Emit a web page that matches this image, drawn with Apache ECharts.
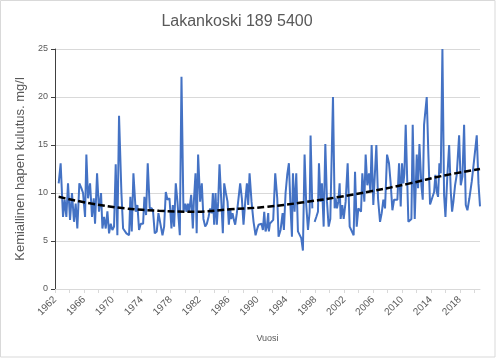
<!DOCTYPE html>
<html>
<head>
<meta charset="utf-8">
<script src="https://cdn.jsdelivr.net/npm/echarts@6/dist/echarts.min.js"></script>
<style>html,body{margin:0;padding:0;background:#fff}#c{width:500px;height:358px}</style>
</head>
<body>
<div id="c"></div>
<script>
const years = [1962.51,1962.78,1963.11,1963.34,1963.57,1963.80,1964.08,1964.35,1964.63,1964.86,1965.09,1965.37,1965.65,1965.88,1966.16,1966.34,1966.57,1966.85,1967.12,1967.36,1967.54,1967.82,1968.09,1968.37,1968.56,1968.79,1969.02,1969.25,1969.48,1969.71,1969.94,1970.17,1970.40,1970.63,1970.86,1971.19,1971.42,1971.65,1971.88,1972.25,1972.43,1972.62,1972.85,1973.17,1973.40,1973.63,1973.87,1974.19,1974.37,1974.60,1974.83,1975.11,1975.39,1975.57,1975.80,1976.08,1976.31,1976.54,1976.87,1977.10,1977.33,1977.56,1977.84,1978.11,1978.30,1978.48,1978.71,1978.94,1979.27,1979.50,1979.77,1980.01,1980.19,1980.38,1980.56,1980.84,1981.07,1981.21,1981.44,1981.60,1981.80,1982.08,1982.31,1982.54,1982.78,1983.01,1983.24,1983.47,1983.70,1983.84,1984.02,1984.21,1984.39,1984.58,1984.76,1984.99,1985.22,1985.41,1985.64,1985.87,1986.05,1986.24,1986.38,1986.56,1986.75,1986.93,1987.16,1987.39,1987.62,1987.85,1988.08,1988.32,1988.55,1988.73,1988.92,1989.19,1989.47,1989.75,1989.93,1990.16,1990.39,1990.58,1990.76,1990.95,1991.13,1991.32,1991.50,1991.59,1991.73,1991.92,1992.19,1992.47,1992.75,1992.93,1993.21,1993.49,1993.67,1993.90,1994.13,1994.36,1994.59,1994.78,1994.92,1995.15,1995.38,1995.61,1995.84,1996.07,1996.30,1996.53,1996.76,1997.00,1997.23,1997.36,1997.60,1997.75,1997.92,1998.15,1998.38,1998.52,1998.75,1998.93,1999.17,1999.40,1999.63,1999.86,2000.09,2000.32,2000.46,2000.69,2000.83,2001.01,2001.20,2001.38,2001.52,2001.75,2001.94,2002.21,2002.49,2002.77,2003.04,2003.32,2003.51,2003.74,2003.97,2004.15,2004.34,2004.52,2004.80,2004.98,2005.21,2005.44,2005.63,2005.81,2006.04,2006.27,2006.46,2006.69,2006.97,2007.20,2007.43,2007.66,2007.94,2008.21,2008.44,2008.68,2008.91,2009.14,2009.37,2009.60,2009.83,2010.01,2010.20,2010.34,2010.52,2010.75,2010.89,2011.12,2011.31,2011.49,2011.77,2012.05,2012.23,2012.42,2012.69,2012.88,2013.06,2013.43,2013.66,2013.89,2014.12,2014.45,2014.63,2014.82,2015.00,2015.18,2015.37,2015.60,2015.83,2016.02,2016.29,2016.53,2016.76,2016.94,2017.12,2017.35,2017.58,2017.91,2018.14,2018.37,2018.60,2018.83,2019.06,2019.33,2019.66,2019.98,2020.35,2020.59,2020.80];
const cod = [11.0,13.1,7.5,9.3,7.5,11.0,7.2,10.0,7.0,8.9,6.3,11.0,10.5,10.0,7.5,14.0,9.45,11.0,7.5,9.45,6.8,12.05,8.05,10.0,6.3,7.5,6.3,8.1,5.8,6.8,6.15,6.5,13.0,5.6,18.05,10.0,6.3,6.15,5.8,5.6,9.6,6.0,12.05,8.05,8.75,6.15,6.8,6.8,9.6,7.7,13.1,8.4,8.4,8.05,5.8,6.0,7.9,7.9,5.6,6.5,10.1,9.3,9.45,6.3,8.75,6.5,11.0,9.1,5.6,22.1,8.05,8.9,8.05,8.9,8.05,9.8,6.3,9.1,12.05,5.8,14.0,9.1,11.0,7.3,6.5,6.8,7.5,8.4,7.9,10.0,6.7,10.0,6.7,9.1,13.0,9.45,5.8,11.0,10.0,9.1,6.7,8.4,7.3,7.9,7.2,6.7,7.9,9.45,11.0,9.45,6.7,9.1,11.0,8.75,12.05,9.1,7.0,5.6,6.15,6.7,6.5,6.8,6.15,8.05,6.0,6.5,7.9,6.0,6.8,7.0,7.2,12.05,9.45,5.45,6.15,7.9,6.15,10.0,11.9,13.1,8.4,5.45,12.05,8.05,12.05,6.0,6.15,5.3,4.0,14.0,8.75,6.15,8.05,16.0,8.4,null,7.0,7.5,8.05,13.1,9.1,11.0,6.5,15.1,9.1,6.5,7.3,7.5,20.0,8.4,9.45,8.4,9.1,11.0,7.3,8.75,7.3,9.1,13.1,6.5,6.5,5.6,12.2,6.5,8.4,8.6,8.05,12.05,9.1,14.0,10.8,12.05,10.1,15.0,8.75,8.6,15.0,9.45,7.0,7.9,9.3,8.4,14.0,13.1,11.0,8.2,9.3,9.3,9.3,13.1,8.6,13.1,11.0,12.05,17.1,10.8,7.0,6.8,7.3,17.1,7.3,14.0,10.5,15.1,10.8,9.3,17.1,20.0,14.0,8.8,8.7,10.1,11.9,10.1,9.6,13.1,12.05,25.0,9.8,7.5,11.9,15.0,10.1,8.05,9.1,10.8,11.9,16.0,10.8,11.7,17.1,8.75,8.2,9.45,11.2,13.4,16.0,11.0,8.6];
const trendYears = [1962.5,1967.0,1971.7,1976.4,1981.5,1986.2,1991.2,1996.1,2001.0,2005.9,2010.8,2015.7,2020.8];
const trendValues = [9.6,8.9,8.4,8.15,8.05,8.3,8.55,9.0,9.55,10.2,10.95,11.8,12.5];
const yTicks = [0,5,10,15,20,25];
const xStart = 1962;

const chart = echarts.init(document.getElementById('c'), null, {renderer:'canvas'});
const font = 'Liberation Sans';
chart.setOption({
  animation: false,
  backgroundColor: '#ffffff',
  textStyle: {fontFamily: font},
  graphic: [
    {type:'rect', shape:{x:0.5,y:0.5,width:494.5,height:356.5}, style:{fill:'none', stroke:'#d9d9d9', lineWidth:1}, silent:true},
    {type:'text', x:237, y:22, style:{text:'Lakankoski 189 5400', fontSize:16, fontFamily:font, fill:'#595959', textAlign:'center', textVerticalAlign:'middle'}}
  ],
  grid: {left:55, right:20, top:49, bottom:69, containLabel:false},
  xAxis: {
    type:'value', min:xStart, max:2020.8, interval:2,
    name:'Vuosi', nameLocation:'middle', nameGap:45,
    nameTextStyle:{color:'#595959', fontSize:9, fontFamily:font},
    axisLine:{show:true, lineStyle:{color:'#d9d9d9', width:1}},
    axisTick:{show:true, length:4, lineStyle:{color:'#d9d9d9'}},
    splitLine:{show:false},
    axisLabel:{rotate:45, margin:9, fontSize:10, color:'#595959', fontFamily:font,
      showMaxLabel:false,
      formatter: v => ((Math.round(v) - xStart) % 4 === 0 && Math.abs(v - Math.round(v)) < 1e-6) ? String(Math.round(v)) : ''}
  },
  yAxis: {
    type:'value', min:yTicks[0], max:yTicks[yTicks.length-1], interval:5,
    name:'Kemiallinen hapen kulutus. mg/l', nameLocation:'middle', nameGap:28,
    nameTextStyle:{color:'#595959', fontSize:13, fontFamily:font},
    axisLine:{show:true, lineStyle:{color:'#404040', width:1}},
    axisTick:{show:true, length:4, lineStyle:{color:'#404040'}},
    splitLine:{show:true, lineStyle:{color:'#d9d9d9', width:1}},
    axisLabel:{fontSize:9, color:'#595959', margin:7, fontFamily:font}
  },
  series: [
    {type:'line', data: years.map((y,i)=>[y, cod[i]]), showSymbol:false, connectNulls:false,
     lineStyle:{color:'#4472C4', width:2}, itemStyle:{color:'#4472C4'}, z:2},
    {type:'line', data: trendYears.map((y,i)=>[y, trendValues[i]]), showSymbol:false, smooth:0.4,
     lineStyle:{color:'#000000', width:2.5, type:[7,3]}, z:3}
  ]
});
</script>
</body>
</html>
